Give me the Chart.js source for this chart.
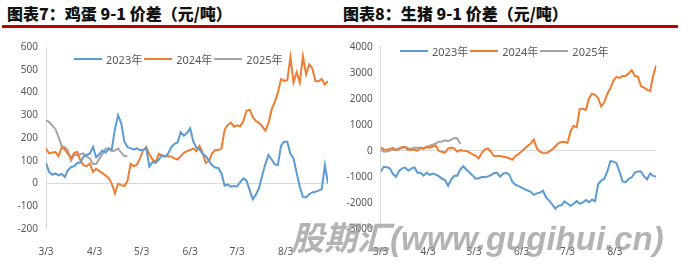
<!DOCTYPE html>
<html>
<head>
<meta charset="utf-8">
<script src="https://cdn.jsdelivr.net/npm/chart.js@4.4.1/dist/chart.umd.min.js"></script>
<style>
  html, body { margin: 0; padding: 0; background: #fff; }
  body { width: 691px; height: 265px; position: relative; overflow: hidden;
         font-family: "Noto Sans", "Noto Sans CJK SC", sans-serif; }
  .title { position: absolute; top: 1px; font-size: 16px; font-weight: 900; color: #111;
           font-family: "Noto Sans CJK SC", sans-serif; white-space: nowrap; }
  .redline { position: absolute; top: 25px; left: 2px; width: 676px; height: 3px; background: #C00000; }
  canvas { position: absolute; top: 30px; }
  .legend { position: absolute; display: flex; align-items: center; font-size: 11px; color: #595959;
            white-space: nowrap; font-family: "Noto Sans", "Noto Sans CJK SC", sans-serif; }
  .legend .ln { width: 28px; height: 2px; margin-right: 4px; }
  .legend .tx { margin-right: 2px; }
  .mark { position: absolute; left: 291px; top: 212px; font-size: 33px; font-weight: 700; font-style: italic;
          color: rgba(150,150,150,0.72); white-space: nowrap; pointer-events: none;
          font-family: "Liberation Sans", "Noto Sans CJK SC", sans-serif; }
</style>
</head>
<body>
<div class="title" style="left:7px">图表7：鸡蛋 9-1 价差（元/吨）</div>
<div class="title" style="left:343px">图表8：生猪 9-1 价差（元/吨）</div>
<div class="redline"></div>

<canvas id="egg" width="340" height="235" style="left:0px;width:340px;height:235px"></canvas>
<canvas id="hog" width="346" height="235" style="left:345px;width:346px;height:235px"></canvas>

<div class="legend" style="left:74px;top:51px">
  <span class="ln" style="background:#5B9BD5"></span><span class="tx">2023年</span>
  <span class="ln" style="background:#ED7D31"></span><span class="tx">2024年</span>
  <span class="ln" style="background:#A5A5A5"></span><span class="tx">2025年</span>
</div>
<div class="legend" style="left:400px;top:43px">
  <span class="ln" style="background:#5B9BD5"></span><span class="tx">2023年</span>
  <span class="ln" style="background:#ED7D31"></span><span class="tx">2024年</span>
  <span class="ln" style="background:#A5A5A5"></span><span class="tx">2025年</span>
</div>

<div class="mark">股期汇(www.gugihui.cn)</div>

<script>
// x = days after 3/3, every 2nd day up to 8/30
const days = [];
for (let d = 0; d <= 180; d += 2) days.push(d);

const tickDays = [0, 31, 61, 92, 122, 153];
const tickLabels = ['3/3', '4/3', '5/3', '6/3', '7/3', '8/3'];
const seriesNames = ['2023年', '2024年', '2025年'];

// 鸡蛋 9-1 价差
const egg2023 = [91,50,38,44,35,41,28,58,72,76,
  90,92,118,125,132,160,115,128,145,135,
  150,150,240,300,266,185,160,154,150,154,
  147,147,155,74,94,90,105,125,118,132,
  160,174,180,225,210,222,243,185,158,150,
  130,120,100,80,70,68,45,-10,-5,-15,
  -12,-14,5,22,12,-30,-70,-50,-20,35,
  85,125,105,85,80,165,184,184,130,110,
  45,-15,-60,-62,-48,-40,-37,-32,-25,80,
  0];
const egg2024 = [154,132,136,138,120,158,150,130,112,134,
  138,100,80,76,88,50,64,54,46,34,
  24,-2,-45,-2,-8,-12,10,86,75,82,
  110,145,160,128,105,95,130,120,120,120,
  118,110,105,120,135,142,147,154,142,165,
  135,90,98,132,147,147,154,235,258,268,
  250,256,252,275,320,325,292,275,266,252,
  232,265,325,358,400,460,452,455,556,445,
  490,445,560,480,525,507,451,450,460,436,
  451];
const egg2025 = [279,270,255,240,205,165,160,145,100,125,
  125,128,132,118,110,85,85,108,130,152,
  155,142,145,154,135,120,122];

// 生猪 9-1 价差
const hog2023 = [-806,-620,-640,-680,-900,-1010,-780,-680,-650,-768,
  -690,-640,-850,-845,-960,-850,-930,-880,-920,-980,
  -1080,-1130,-1350,-1110,-960,-960,-720,-600,-730,-840,
  -950,-1080,-1060,-1010,-1010,-990,-940,-860,-850,-1000,
  -880,-850,-920,-1200,-1310,-1360,-1420,-1480,-1530,-1580,
  -1700,-1640,-1614,-1540,-1800,-1920,-2060,-2230,-2120,-2100,
  -1950,-2030,-2120,-2040,-1940,-2040,-2000,-1900,-1980,-1880,
  -1940,-1300,-1150,-1080,-800,-400,-420,-480,-820,-1180,
  -1220,-1080,-1020,-840,-800,-800,-980,-1100,-880,-970,
  -1000];
const hog2024 = [128,50,40,70,110,27,60,140,130,27,
  50,35,0,110,70,155,110,160,200,-20,
  -40,-76,80,120,91,-37,25,0,-10,-70,
  -140,-190,-300,-90,50,85,-37,-204,-200,-200,
  -235,-250,-290,-350,-200,-130,-30,80,180,280,
  430,90,-40,-90,-95,-40,50,160,284,335,
  345,300,750,960,900,1600,1620,1560,2000,2190,
  2150,2030,1700,1860,2180,2400,2700,2840,2800,2873,
  2873,2980,3100,2873,2847,2480,2430,2340,2300,2900,
  3296];
const hog2025 = [27,-37,-30,5,27,27,91,110,150,80,
  70,120,110,115,100,125,190,235,280,348,
  355,400,370,430,490,470,260];

const colors = ['#5B9BD5', '#ED7D31', '#A5A5A5'];
const labelFont = { family: '"Noto Sans", "Noto Sans CJK SC", sans-serif', size: 10 };

function makeChart(id, series, yMin, yMax, yStep, yWidth, pad) {
  new Chart(document.getElementById(id), {
    type: 'line',
    data: {
      datasets: series.map((vals, i) => ({
        label: seriesNames[i],
        data: vals.map((v, j) => ({ x: days[j], y: v })),
        borderColor: colors[i],
        backgroundColor: colors[i],
        borderWidth: 2,
        pointRadius: 0,
        tension: 0
      }))
    },
    options: {
      responsive: false,
      animation: false,
      devicePixelRatio: 1,
      layout: { padding: pad },
      plugins: { legend: { display: false }, tooltip: { enabled: false } },
      scales: {
        x: {
          type: 'linear', min: 0, max: 180,
          grid: { display: false },
          border: { display: false },
          afterBuildTicks: s => { s.ticks = tickDays.map(v => ({ value: v })); },
          afterFit: s => { s.height = 26.3; },
          ticks: {
            padding: 9, color: '#595959', font: labelFont, maxRotation: 0, autoSkip: false,
            callback: v => tickLabels[tickDays.indexOf(v)]
          }
        },
        y: {
          min: yMin, max: yMax,
          grid: {
            drawTicks: false,
            color: c => (c.tick && c.tick.value === 0) ? '#D9D9D9' : 'rgba(0,0,0,0)'
          },
          border: { display: true, color: '#D9D9D9', width: 1 },
          afterFit: s => { s.width = yWidth; },
          ticks: { stepSize: yStep, padding: 8, color: '#595959', font: labelFont,
                   callback: v => String(v) }
        }
      }
    }
  });
}

makeChart('egg', [egg2023, egg2024, egg2025], -200, 600, 100, 46,
  { left: 0, right: 12, top: 17.3, bottom: 10 });
makeChart('hog', [hog2023, hog2024, hog2025], -3000, 4000, 1000, 35.7,
  { left: 0, right: 34.7, top: 16.7, bottom: 10 });
</script>
</body>
</html>
